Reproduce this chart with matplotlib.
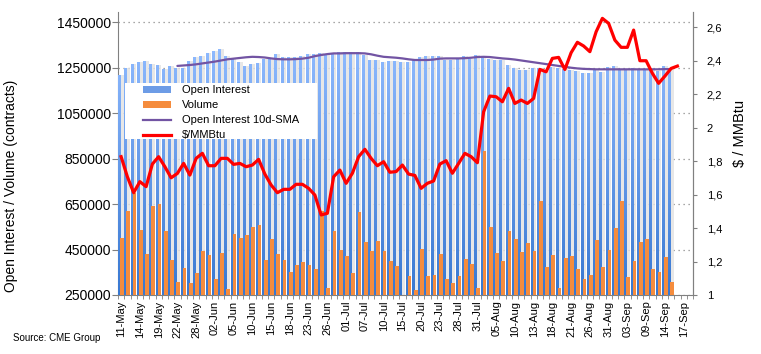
import numpy as np
import pandas as pd
import matplotlib
matplotlib.use('Agg')
import matplotlib.pyplot as plt
from matplotlib.path import Path
from matplotlib.patches import PathPatch, Patch, Rectangle
from matplotlib.lines import Line2D
from matplotlib.ticker import FuncFormatter, FixedLocator

plt.rcParams['font.family'] = ['Liberation Sans', 'DejaVu Sans']

# trading days (CME), 11-May .. 18-Sep 2020
dates = pd.bdate_range('2020-05-11', '2020-09-18', freq='C',
                       holidays=['2020-05-25', '2020-07-03', '2020-09-07'])
tick_labels = list(dates.strftime('%d-%b'))[::3]

# open interest (contracts, thousands)
open_interest = [1217, 1248, 1265, 1274, 1278, 1265, 1261, 1243, 1257, 1248,
                 1248, 1278, 1297, 1302, 1314, 1322, 1331, 1302, 1287, 1273,
                 1257, 1265, 1268, 1287, 1290, 1309, 1298, 1295, 1298, 1300,
                 1308, 1310, 1314, 1311, 1315, 1316, 1316, 1317, 1317, 1305,
                 1283, 1283, 1274, 1278, 1277, 1274, 1274, 1283, 1296, 1300,
                 1300, 1300, 1284, 1284, 1287, 1300, 1288, 1305, 1296, 1287,
                 1283, 1285, 1261, 1246, 1239, 1239, 1246, 1249, 1234, 1254,
                 1249, 1243, 1239, 1234, 1227, 1224, 1242, 1232, 1251, 1256,
                 1245, 1245, 1246, 1245, 1245, 1245, 1236, 1256, 1246]

# volume (contracts, thousands)
volume = [500, 619, 700, 536, 430, 641, 650, 533, 404, 307,
          370, 301, 345, 445, 426, 322, 436, 275, 518, 500,
          512, 548, 558, 404, 495, 430, 404, 351, 380, 394,
          382, 366, 618, 280, 531, 448, 421, 345, 615, 483,
          444, 487, 443, 399, 377, 240, 333, 272, 452, 333,
          338, 430, 320, 301, 333, 408, 386, 282, 883, 549,
          435, 399, 531, 496, 439, 479, 443, 663, 373, 426,
          282, 413, 421, 364, 320, 338, 492, 373, 448, 544,
          663, 329, 399, 483, 496, 364, 351, 417, 307]

# 10 day SMA of open interest, from day 10 on (thousands)
oi_sma = [1257, 1259, 1261, 1264, 1268, 1272, 1276, 1281, 1286, 1289,
          1292, 1295, 1297, 1296, 1294, 1290, 1287, 1286, 1286, 1287,
          1289, 1293, 1300, 1305, 1309, 1312, 1312, 1313, 1313, 1313,
          1312, 1308, 1302, 1297, 1295, 1293, 1290, 1286, 1283, 1283,
          1283, 1285, 1289, 1290, 1290, 1290, 1291, 1293, 1296, 1297,
          1296, 1293, 1290, 1288, 1285, 1281, 1277, 1273, 1269, 1265,
          1261, 1257, 1253, 1249, 1246, 1244, 1243, 1242, 1242, 1242,
          1242, 1242, 1242, 1242, 1242, 1242, 1242, 1242, 1243, 1243]

# natural gas price ($/MMBtu)
price = [1.826, 1.706, 1.611, 1.677, 1.647, 1.782, 1.826, 1.766, 1.700, 1.726,
         1.786, 1.716, 1.816, 1.846, 1.772, 1.772, 1.816, 1.816, 1.780, 1.786,
         1.766, 1.776, 1.810, 1.722, 1.657, 1.611, 1.631, 1.631, 1.661, 1.661,
         1.637, 1.597, 1.478, 1.488, 1.706, 1.746, 1.667, 1.727, 1.826, 1.870,
         1.816, 1.772, 1.796, 1.733, 1.737, 1.776, 1.722, 1.714, 1.637, 1.667,
         1.681, 1.782, 1.802, 1.727, 1.786, 1.846, 1.826, 1.790, 2.094, 2.188,
         2.184, 2.154, 2.234, 2.144, 2.164, 2.144, 2.174, 2.347, 2.333, 2.413,
         2.419, 2.347, 2.447, 2.509, 2.487, 2.453, 2.572, 2.652, 2.622, 2.522,
         2.479, 2.479, 2.582, 2.399, 2.399, 2.324, 2.264, 2.307, 2.353, 2.367]

oi = np.array(open_interest) * 1000
vol = np.array(volume) * 1000
sma = np.array(oi_sma) * 1000
x = np.arange(len(oi))
x_sma = np.arange(len(oi) - len(sma), len(oi))
x_price = np.arange(len(price))

fig = plt.figure(figsize=(7.61, 3.54), dpi=100)
ax = fig.add_axes([118 / 761, 59 / 354, 575 / 761, 283 / 354])

y_min, y_max = 250000, 1494000

# shadow, blue bars, gradient, volume
ax.bar(x, oi, width=0.9, color='#e2e2e2', alpha=0.8, zorder=1)
oi_bars = ax.bar(x - 0.25, oi, width=0.48, color='#6d9ce6', zorder=2)

verts, codes = [], []
for b in oi_bars:
    x0, y0 = b.get_xy()
    w, h = b.get_width(), b.get_height()
    verts += [(x0, y0), (x0 + w, y0), (x0 + w, y0 + h), (x0, y0 + h), (x0, y0)]
    codes += [Path.MOVETO, Path.LINETO, Path.LINETO, Path.LINETO, Path.CLOSEPOLY]
clip = PathPatch(Path(verts, codes), transform=ax.transData, facecolor='none', edgecolor='none')
ax.add_patch(clip)
top_c = np.array([0.56, 0.73, 1.0])
bot_c = np.array([0.22, 0.47, 0.82])
t = np.linspace(0, 1, 256)[:, None, None]
grad = bot_c + (top_c - bot_c) * t
grad = np.repeat(grad, 2, axis=1)
im = ax.imshow(grad, extent=[-0.5, len(dates) - 0.5, y_min, 1340000], origin='lower',
               aspect='auto', zorder=3, interpolation='bilinear')
im.set_clip_path(clip)

ax.bar(x + 0.135, vol, width=0.62, color='#f58c3d', zorder=4)
ax.plot(x_sma, sma, color='#7254a3', lw=1.6, zorder=5, solid_capstyle='round')

ax.set_xlim(-0.5, len(dates) - 0.5)
ax.set_ylim(y_min, y_max)

ax.yaxis.set_major_locator(FixedLocator(np.arange(250000, 1450001, 200000)))
ax.yaxis.set_major_formatter(FuncFormatter(lambda v, p: f"{int(v)}"))
ax.yaxis.grid(True, linestyle=(0, (1, 3)), color='#8a8a8a', linewidth=0.9)
ax.set_axisbelow(True)

ax.set_xticks(np.arange(0, len(dates), 3))
ax.set_xticklabels(tick_labels, rotation=90, fontsize=8)
ax.set_xticks(np.arange(-0.5, len(dates), 1), minor=True)
ax.tick_params(axis='x', which='major', length=0, pad=4)
ax.tick_params(axis='x', which='minor', length=3, color='#808080', direction='out')
ax.tick_params(axis='y', length=4, color='#808080', pad=1, labelsize=10)

ax.set_ylabel('Open Interest / Volume (contracts)', fontsize=10)
ax.yaxis.set_label_coords(-0.174, 0.385)

for s in ['left', 'bottom', 'right']:
    ax.spines[s].set_color('#808080')
ax.spines['top'].set_visible(False)

ax2 = ax.twinx()
ax2.plot(x_price, price, color='#ff0000', lw=2.3, zorder=6, solid_joinstyle='round')
ax2.set_ylim(1, 2.69)
ax2.set_yticks(np.arange(1, 2.61, 0.2))
ax2.yaxis.set_major_formatter(FuncFormatter(lambda v, p: f"{round(v, 1):g}".replace('.', ',')))
ax2.tick_params(axis='y', length=3, color='#808080', pad=7, labelsize=8)
ax2.set_ylabel('$ / MMBtu', fontsize=10.5)
ax2.yaxis.set_label_coords(1.07, 0.571)
ax2.spines['top'].set_visible(False)
ax2.spines['left'].set_visible(False)
ax2.spines['bottom'].set_visible(False)
ax2.spines['right'].set_color('#808080')

# legend box
ax2.add_patch(Rectangle(((125 - 118) / 575, (295 - 139) / 283), (317 - 125) / 575, (139 - 83) / 283,
                        transform=ax2.transAxes, facecolor='white', edgecolor='none', zorder=9))
handles = [Patch(facecolor='#6d9ce6'), Patch(facecolor='#f58c3d'),
           Line2D([], [], color='#7254a3', lw=1.6), Line2D([], [], color='#ff0000', lw=2.3)]
labels = ['Open Interest', 'Volume', 'Open Interest 10d-SMA', '$/MMBtu']
leg = ax2.legend(handles, labels, loc='upper left',
                 bbox_to_anchor=((140 - 118) / 575, (295 - 82) / 283),
                 fontsize=8, frameon=False, borderpad=0.3, labelspacing=0.45,
                 handlelength=2.45, handleheight=0.6, handletextpad=1.05, borderaxespad=0)
leg.set_zorder(10)

fig.text(13 / 761, 1 - 338 / 354, 'Source: CME Group', fontsize=7, va='center')

fig.savefig('out.png', dpi=100)
